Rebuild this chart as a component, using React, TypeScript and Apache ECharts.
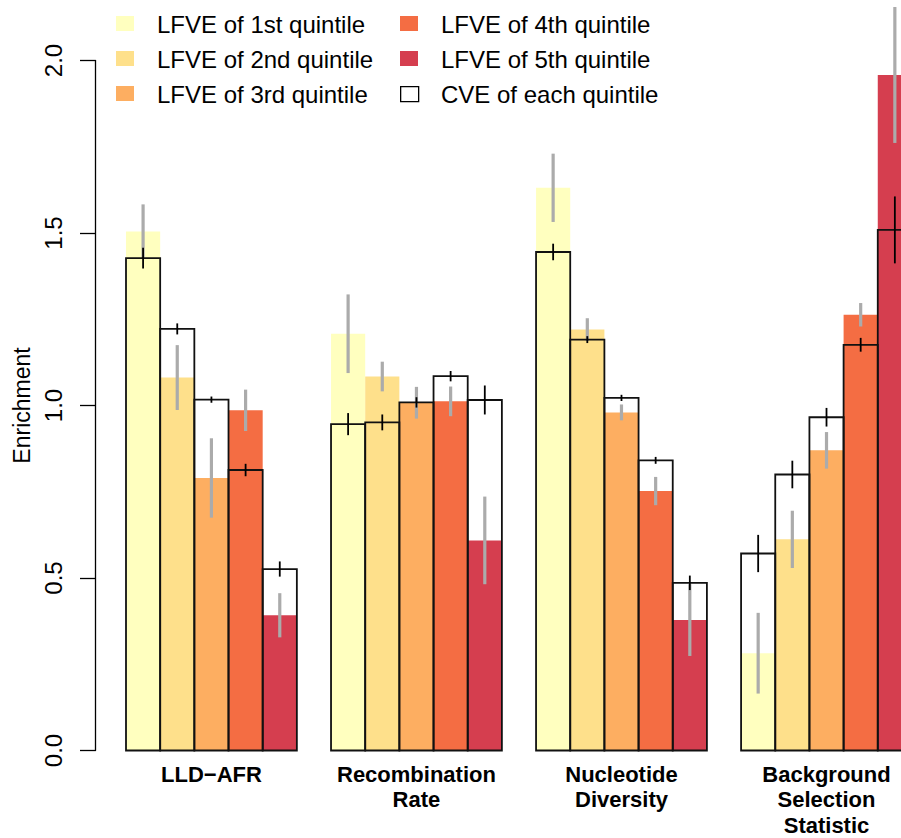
import React, { useEffect, useRef } from "react";
import * as echarts from "echarts";

// ---- data ----
const groups = ["LLD−AFR", "Recombination\nRate", "Nucleotide\nDiversity", "Background\nSelection\nStatistic"];
const quintileNames = [
  "LFVE of 1st quintile",
  "LFVE of 2nd quintile",
  "LFVE of 3rd quintile",
  "LFVE of 4th quintile",
  "LFVE of 5th quintile",
];
const cveName = "CVE of each quintile";
const quintileColors = ["#FFFFBF", "#FEE08B", "#FDAE61", "#F46D43", "#D53E4F"];

// rows: quintile 1..5, columns: groups
const lfveValues = [
  [1.504, 1.208, 1.631, 0.282],
  [1.081, 1.084, 1.22, 0.612],
  [0.79, 1.008, 0.98, 0.87],
  [0.986, 1.012, 0.752, 1.263],
  [0.392, 0.609, 0.378, 1.958],
];
const lfveErrors = [
  [0.079, 0.114, 0.099, 0.117],
  [0.094, 0.043, 0.033, 0.083],
  [0.115, 0.046, 0.023, 0.053],
  [0.06, 0.043, 0.041, 0.034],
  [0.064, 0.127, 0.104, 0.197],
];
const cveValues = [
  [1.427, 0.946, 1.445, 0.571],
  [1.222, 0.951, 1.191, 0.8],
  [1.017, 1.009, 1.022, 0.966],
  [0.813, 1.085, 0.841, 1.176],
  [0.526, 1.016, 0.486, 1.509],
];
const cveErrors = [
  [0.03, 0.032, 0.024, 0.054],
  [0.016, 0.023, 0.01, 0.04],
  [0.009, 0.015, 0.009, 0.027],
  [0.018, 0.015, 0.01, 0.02],
  [0.022, 0.042, 0.021, 0.097],
];

// ---- layout helpers (bar slots: one empty slot before each group of five) ----
const GROUP_STEP = 6;
const FIRST_OFFSET = 1;
const X_MIN = 0.0928;
const X_MAX = 23.68;
const barLeft = (g: number, q: number) => FIRST_OFFSET + g * GROUP_STEP + q;
const groupCenters = groups.map((_, g) => FIRST_OFFSET + g * GROUP_STEP + 2.5);

const FONT = "'Liberation Sans', Arial, Helvetica, sans-serif";

function rectItem(color: string | null, stroke: string | null) {
  return (params: any, api: any) => {
    const x0 = api.value(0);
    const v = api.value(1);
    const p0 = api.coord([x0, v]);
    const p1 = api.coord([x0 + 1, 0]);
    return {
      type: "rect",
      shape: { x: p0[0], y: p0[1], width: p1[0] - p0[0], height: p1[1] - p0[1] },
      style: {
        fill: color || "none",
        stroke: stroke || "none",
        lineWidth: stroke ? 1.8 : 0,
      },
    };
  };
}

function errItem(color: string, width: number) {
  return (params: any, api: any) => {
    const xc = api.value(0) + 0.5;
    const v = api.value(1);
    const e = api.value(2);
    const a = api.coord([xc, v + e]);
    const b = api.coord([xc, v - e]);
    return {
      type: "line",
      shape: { x1: a[0], y1: a[1], x2: b[0], y2: b[1] },
      style: { stroke: color, lineWidth: width, lineCap: "butt" },
    };
  };
}

export default function App() {
  const ref = useRef<HTMLDivElement>(null);

  useEffect(() => {
    if (!ref.current) return;
    const chart = echarts.init(ref.current, undefined, { renderer: "svg" });

    const series: any[] = [];
    quintileNames.forEach((name, q) => {
      series.push({
        type: "custom",
        name,
        clip: false,
        data: groups.map((_, g) => [barLeft(g, q), lfveValues[q][g]]),
        renderItem: rectItem(quintileColors[q], null),
        z: 1,
      });
    });
    const lfveErrData: number[][] = [];
    const cveData: number[][] = [];
    const cveErrData: number[][] = [];
    for (let q = 0; q < 5; q++) {
      for (let g = 0; g < groups.length; g++) {
        lfveErrData.push([barLeft(g, q), lfveValues[q][g], lfveErrors[q][g]]);
        cveData.push([barLeft(g, q), cveValues[q][g]]);
        cveErrData.push([barLeft(g, q), cveValues[q][g], cveErrors[q][g]]);
      }
    }
    series.push({
      type: "custom",
      name: "LFVE error",
      clip: false,
      data: lfveErrData,
      renderItem: errItem("#ABABAB", 3.2),
      z: 2,
    });
    series.push({
      type: "custom",
      name: cveName,
      clip: false,
      data: cveData,
      renderItem: rectItem(null, "#111111"),
      z: 3,
    });
    series.push({
      type: "custom",
      name: "CVE error",
      clip: false,
      data: cveErrData,
      renderItem: errItem("#000000", 1.8),
      z: 4,
    });

    // legend drawn as graphic swatches + texts
    const legendItems = [
      { name: quintileNames[0], fill: quintileColors[0], stroke: null, col: 0, row: 0 },
      { name: quintileNames[1], fill: quintileColors[1], stroke: null, col: 0, row: 1 },
      { name: quintileNames[2], fill: quintileColors[2], stroke: null, col: 0, row: 2 },
      { name: quintileNames[3], fill: quintileColors[3], stroke: null, col: 1, row: 0 },
      { name: quintileNames[4], fill: quintileColors[4], stroke: null, col: 1, row: 1 },
      { name: cveName, fill: "#FFFFFF", stroke: "#000000", col: 1, row: 2 },
    ];
    const colX = [116, 400];
    const rowY = [16, 51, 86];
    const graphic: any[] = [];
    legendItems.forEach((it) => {
      graphic.push({
        type: "rect",
        left: colX[it.col],
        top: rowY[it.row],
        shape: { width: 18, height: 15 },
        style: { fill: it.fill, stroke: it.stroke || "none", lineWidth: it.stroke ? 1.3 : 0 },
      });
      graphic.push({
        type: "text",
        x: colX[it.col] + 41,
        y: rowY[it.row] + 8.5,
        style: {
          text: it.name,
          font: `24px ${FONT}`,
          fill: "#000",
          textVerticalAlign: "middle",
          verticalAlign: "middle",
        },
      });
    });

    chart.setOption({
      animation: false,
      backgroundColor: "#ffffff",
      textStyle: { fontFamily: FONT },
      grid: { left: 95, right: 0, top: 60.5, bottom: 86.5, containLabel: false },
      xAxis: {
        type: "value",
        min: X_MIN,
        max: X_MAX,
        axisLine: { show: false },
        axisTick: { show: false },
        splitLine: { show: false },
        axisLabel: {
          show: true,
          customValues: groupCenters,
          formatter: (v: number, i: number) => groups[Math.round((v - groupCenters[0]) / GROUP_STEP)],
          fontWeight: "bold",
          fontSize: 22,
          lineHeight: 25.5,
          color: "#000",
          fontFamily: FONT,
          margin: 11,
        },
      },
      yAxis: {
        type: "value",
        min: 0,
        max: 2,
        interval: 0.5,
        axisLine: { show: true, lineStyle: { color: "#000", width: 1.3 } },
        axisTick: { show: true, length: 15, lineStyle: { color: "#000", width: 1.3 } },
        splitLine: { show: false },
        axisLabel: {
          rotate: 90,
          margin: 30,
          fontSize: 24,
          color: "#000",
          fontFamily: FONT,
          formatter: (v: number) => v.toFixed(1),
        },
        name: "Enrichment",
        nameLocation: "middle",
        nameRotate: 90,
        nameGap: 62,
        nameTextStyle: { fontSize: 23, color: "#000", fontFamily: FONT },
      },
      series,
      graphic,
    });

    return () => chart.dispose();
  }, []);

  return (
    <div
      ref={ref}
      style={{ position: "absolute", left: 0, top: 0, width: 901, height: 838, background: "#fff" }}
    />
  );
}
